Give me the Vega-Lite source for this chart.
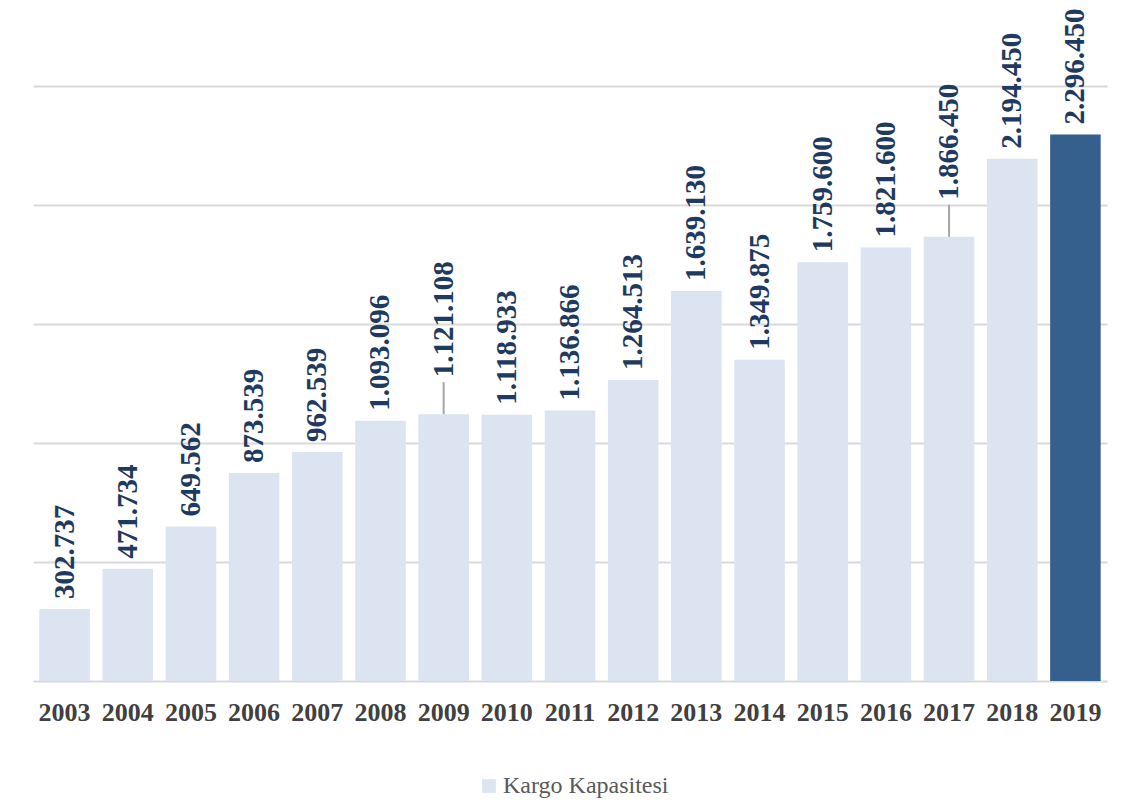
{
  "$schema": "https://vega.github.io/schema/vega-lite/v6.json",
  "width": 1074,
  "height": 595,
  "autosize": {"type": "none"},
  "padding": {"left": 33, "top": 86, "right": 29, "bottom": 126},
  "background": "white",
  "config": {
    "view": {"stroke": null},
    "font": "Liberation Serif",
    "locale": {"number": {"decimal": ",", "thousands": ".", "grouping": [3], "currency": ["", ""]}}
  },
  "data": {
    "values": [
      {"year": "2003", "value": 302737, "series": "Kargo Kapasitesi"},
      {"year": "2004", "value": 471734, "series": "Kargo Kapasitesi"},
      {"year": "2005", "value": 649562, "series": "Kargo Kapasitesi"},
      {"year": "2006", "value": 873539, "series": "Kargo Kapasitesi"},
      {"year": "2007", "value": 962539, "series": "Kargo Kapasitesi"},
      {"year": "2008", "value": 1093096, "series": "Kargo Kapasitesi"},
      {"year": "2009", "value": 1121108, "series": "Kargo Kapasitesi"},
      {"year": "2010", "value": 1118933, "series": "Kargo Kapasitesi"},
      {"year": "2011", "value": 1136866, "series": "Kargo Kapasitesi"},
      {"year": "2012", "value": 1264513, "series": "Kargo Kapasitesi"},
      {"year": "2013", "value": 1639130, "series": "Kargo Kapasitesi"},
      {"year": "2014", "value": 1349875, "series": "Kargo Kapasitesi"},
      {"year": "2015", "value": 1759600, "series": "Kargo Kapasitesi"},
      {"year": "2016", "value": 1821600, "series": "Kargo Kapasitesi"},
      {"year": "2017", "value": 1866450, "series": "Kargo Kapasitesi"},
      {"year": "2018", "value": 2194450, "series": "Kargo Kapasitesi"},
      {"year": "2019", "value": 2296450, "series": "Kargo Kapasitesi"}
    ]
  },
  "encoding": {
    "x": {
      "field": "year", "type": "ordinal",
      "scale": {"paddingInner": 0.2, "paddingOuter": 0.1},
      "axis": {
        "title": null, "labelAngle": 0, "ticks": false,
        "domainColor": "#d9d9d9", "domainWidth": 2,
        "labelFont": "Liberation Serif", "labelFontSize": 26, "labelFontWeight": "bold",
        "labelColor": "#404040", "labelPadding": 18
      }
    },
    "y": {
      "field": "value", "type": "quantitative",
      "scale": {"domain": [0, 2500000], "nice": false},
      "axis": {
        "title": null, "labels": false, "ticks": false, "domain": false,
        "values": [500000, 1000000, 1500000, 2000000, 2500000],
        "gridColor": "#d9d9d9", "gridWidth": 2
      }
    }
  },
  "layer": [
    {
      "mark": {"type": "bar"},
      "encoding": {
        "color": {
          "field": "series", "type": "nominal",
          "scale": {"range": ["#dbe4f0"]},
          "condition": {"test": "datum.year == '2019'", "value": "#355f8d"},
          "legend": {
            "title": null, "orient": "none", "legendX": 444, "legendY": 688,
            "symbolType": "square", "symbolSize": 190, "symbolStrokeWidth": 0,
            "labelFont": "Liberation Serif", "labelFontSize": 24, "labelColor": "#595959",
            "labelOffset": 2, "labelLimit": 0, "padding": 0
          }
        }
      }
    },
    {
      "transform": [{"filter": "datum.year == '2009' || datum.year == '2017'"}],
      "mark": {"type": "rule", "color": "#a6a6a6", "strokeWidth": 2, "y2Offset": -32},
      "encoding": {"y2": {"field": "value"}}
    },
    {
      "transform": [{"filter": "datum.year != '2009' && datum.year != '2017'"}],
      "mark": {
        "type": "text", "angle": 270, "align": "left", "baseline": "middle", "dx": 10,
        "font": "Liberation Serif", "fontSize": 29, "fontWeight": "bold", "color": "#1f3a60"
      },
      "encoding": {"text": {"field": "value", "type": "quantitative", "format": ",d"}}
    },
    {
      "transform": [{"filter": "datum.year == '2009' || datum.year == '2017'"}],
      "mark": {
        "type": "text", "angle": 270, "align": "left", "baseline": "middle", "dx": 37,
        "font": "Liberation Serif", "fontSize": 29, "fontWeight": "bold", "color": "#1f3a60"
      },
      "encoding": {"text": {"field": "value", "type": "quantitative", "format": ",d"}}
    }
  ]
}
